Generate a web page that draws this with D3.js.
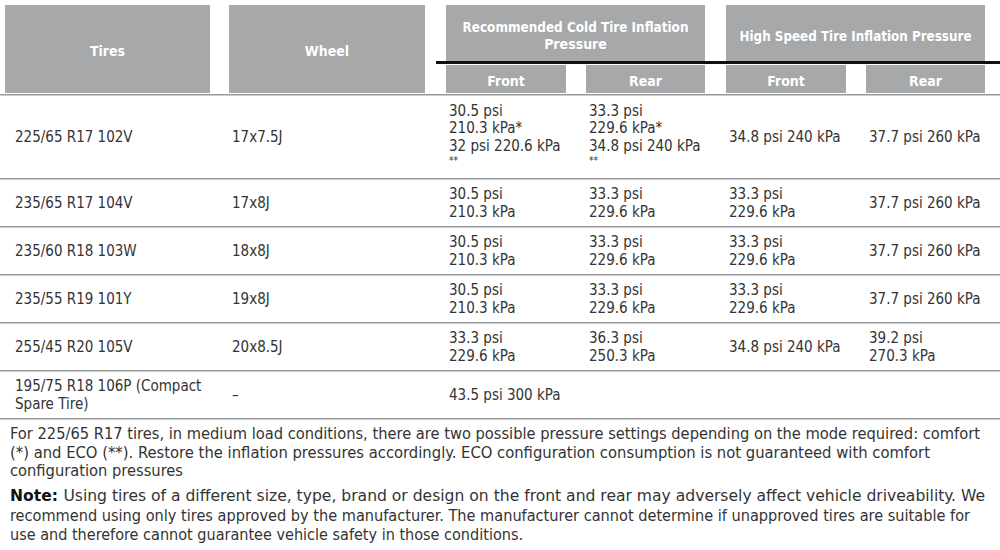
<!DOCTYPE html><html><head><meta charset="utf-8"><script src="https://cdn.jsdelivr.net/npm/d3@7"></script>
<style>body{margin:0;background:#fff}svg{font-family:"Liberation Sans Narrow","DejaVu Sans Condensed","Roboto Condensed",sans-serif}</style></head><body><svg id="c" width="1000" height="550"></svg>
<script>
const tires=[["225/65 R17 102V"],["235/65 R17 104V"],["235/60 R18 103W"],["235/55 R19 101Y"],["255/45 R20 105V"],["195/75 R18 106P (Compact","Spare Tire)"]];
const wheels=["17x7.5J","17x8J","18x8J","19x8J","20x8.5J","–"];
const coldFront=[["30.5 psi","210.3 kPa*","32 psi 220.6 kPa","**"],["30.5 psi","210.3 kPa"],["30.5 psi","210.3 kPa"],["30.5 psi","210.3 kPa"],["33.3 psi","229.6 kPa"],["43.5 psi 300 kPa"]];
const coldRear=[["33.3 psi","229.6 kPa*","34.8 psi 240 kPa","**"],["33.3 psi","229.6 kPa"],["33.3 psi","229.6 kPa"],["33.3 psi","229.6 kPa"],["36.3 psi","250.3 kPa"],[]];
const hsFront=[["34.8 psi 240 kPa"],["33.3 psi","229.6 kPa"],["33.3 psi","229.6 kPa"],["33.3 psi","229.6 kPa"],["34.8 psi 240 kPa"],[]];
const hsRear=[["37.7 psi 260 kPa"],["37.7 psi 260 kPa"],["37.7 psi 260 kPa"],["37.7 psi 260 kPa"],["39.2 psi","270.3 kPa"],[]];
const footnote=["For 225/65 R17 tires, in medium load conditions, there are two possible pressure settings depending on the mode required: comfort","(*) and ECO (**). Restore the inflation pressures accordingly. ECO configuration consumption is not guaranteed with comfort","configuration pressures"];
const note=["Using tires of a different size, type, brand or design on the front and rear may adversely affect vehicle driveability. We","recommend using only tires approved by the manufacturer. The manufacturer cannot determine if unapproved tires are suitable for","use and therefore cannot guarantee vehicle safety in those conditions."];

const svg=d3.select("#c"), G="#a7a8aa";
const hdr=[{x:5,y:5,w:205,h:88,t:["Tires"]},{x:229,y:5,w:196,h:88,t:["Wheel"]},
{x:446,y:5,w:259,h:57,t:["Recommended Cold Tire Inflation","Pressure"],L:[226,0]},{x:726,y:5,w:259,h:57,t:["High Speed Tire Inflation Pressure"],L:[232]},
{x:446,y:65,w:120,h:28,t:["Front"]},{x:586,y:65,w:119,h:28,t:["Rear"]},{x:726,y:65,w:120,h:28,t:["Front"]},{x:866,y:65,w:119,h:28,t:["Rear"]}];
hdr.forEach(h=>{svg.append("rect").attr("x",h.x).attr("y",h.y).attr("width",h.w).attr("height",h.h).attr("fill",G);
 const n=h.t.length;h.t.forEach((s,i)=>{const t=svg.append("text").attr("x",h.x+h.w/2).attr("y",h.y+h.h/2+7+(i-(n-1)/2)*17).attr("text-anchor","middle").attr("fill","#fff").attr("font-weight","bold").attr("font-size",14).text(s);
  if(h.L&&h.L[i])t.attr("textLength",h.L[i]).attr("lengthAdjust","spacingAndGlyphs");});});
svg.append("rect").attr("x",436).attr("y",61).attr("width",564).attr("height",3).attr("fill","#111");
const rowY=[95,179,227,275,323,371,419];
rowY.forEach(v=>svg.append("rect").attr("x",0).attr("y",v-1).attr("width",1000).attr("height",1.5).attr("fill","#999"));
const cols=[{x:15,d:tires},{x:232,d:wheels.map(w=>[w])},{x:449,d:coldFront},{x:589,d:coldRear},{x:729,d:hsFront},{x:869,d:hsRear}];
d3.range(6).forEach(r=>{const top=rowY[r],bot=rowY[r+1],mid=(top+bot)/2;
 cols.forEach(c=>{const L=c.d[r],n=L.length;L.forEach((s,i)=>{const star=s==="**";
  svg.append("text").attr("x",c.x).attr("y",mid+5+(i-(n-1)/2)*17.5-(star?4:0)).attr("font-size",star?10:15).attr("fill","#333").text(s);});});});
const fw=[970,920,173],nw=[930,960,513];
footnote.forEach((s,i)=>svg.append("text").attr("x",10).attr("y",439+i*18.5).attr("font-size",16).attr("fill","#333").attr("textLength",fw[i]).attr("lengthAdjust","spacingAndGlyphs").text(s));
note.forEach((s,i)=>{const t=svg.append("text").attr("x",10).attr("y",501+i*19.5).attr("font-size",16).attr("fill","#333");
 if(i===0){t.append("tspan").attr("font-weight","bold").attr("fill","#111").text("Note: ");}
 t.append("tspan").text(s);t.attr("textLength",i===0?nw[0]+45:nw[i]).attr("lengthAdjust","spacingAndGlyphs");});
</script></body></html>
